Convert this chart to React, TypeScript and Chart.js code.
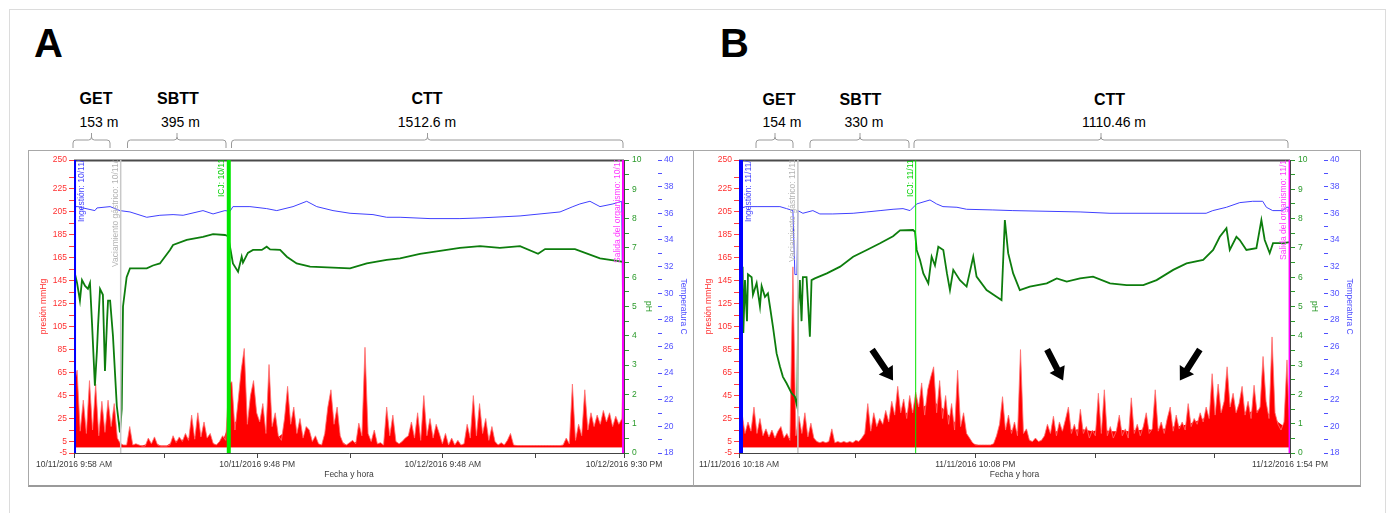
import React, { useEffect, useRef } from 'react';
import { Chart, registerables } from 'chart.js';

Chart.register(...registerables);

const FONT = "'Liberation Sans', Arial, sans-serif";

// ---------------- Panel A (minutes since 10/11/2016 9:58 AM) ----------------
const A_END = 2132;
// dense part of the pressure trace (solid red), one value every 24 min
const A_BASE_STEP = 24;
const pressureBaseA = [
  10, 15, 14, 16, 12, 14, 12, 6, 1.5, 1.5,
  1.5, 1.5, 3, 4, 1.5, 1.5, 5, 6, 7, 9,
  10, 8, 5, 2, 5, 20, 22, 24, 22, 20,
  18, 15, 12, 9, 13, 15, 11, 9, 6, 4,
  2, 10, 14, 6, 2, 3, 6, 10, 4, 2,
  2, 8, 4, 2, 3, 6, 8, 8, 6, 4,
  2, 2, 2, 2, 6, 10, 8, 5, 3, 1.5,
  3, 2, 1.5, 1.5, 1.5, 1.5, 1.5, 1.5, 1.5, 1.5,
  1.5, 8, 10, 14, 16, 16, 18, 16, 16, 16,
];
// pressure peaks, one value every 12 min
const A_STEP = 12;
const pressureA = [
  55, 67, 14, 41, 12, 58, 15, 55, 10, 40,
  13, 41, 18, 38, 8, 3, 2, 2, 18, 2,
  3, 2, 1, 1, 8, 3, 9, 2, 1, 1,
  1, 2, 10, 4, 9, 5, 12, 6, 28, 7,
  30, 9, 22, 8, 12, 3, 2, 5, 10, 6,
  55, 57, 15, 40, 67, 86, 20, 45, 58, 30,
  22, 38, 12, 72, 18, 30, 10, 6, 25, 53,
  20, 35, 12, 25, 8, 18, 15, 5, 10, 3,
  2, 12, 35, 50, 20, 35, 10, 3, 2, 4,
  6, 3, 21, 10, 87, 12, 5, 15, 3, 4,
  2, 35, 10, 28, 5, 3, 5, 8, 10, 22,
  8, 30, 6, 45, 10, 25, 8, 20, 12, 3,
  12, 2, 8, 2, 6, 2, 3, 20, 8, 45,
  10, 38, 12, 25, 6, 18, 5, 2, 4, 2,
  6, 12, 2, 1.5, 1.5, 1.5, 1.5, 1.5, 1.5, 1.5,
  1.5, 1.5, 1.5, 1.5, 1.5, 1.5, 1.5, 1.5, 2, 8,
  3, 55, 6, 20, 10, 50, 15, 30, 18, 28,
  20, 32, 22, 30, 18, 27, 20, 25, 104,
];
const phATimes = [
  0, 4, 12, 23, 31, 43, 54, 62, 70, 81, 89, 93, 101, 112, 120, 128, 132, 140, 151, 166,
  174, 178, 185, 190, 204, 217, 256, 282, 306, 333, 372, 384, 437, 500, 539, 585, 597, 607, 616, 636,
  650, 655, 674, 694, 728, 747, 760, 799, 825, 863, 915, 1004, 1070, 1135, 1212, 1264, 1341, 1419, 1496, 1574,
  1651, 1729, 1799, 1826, 1942, 2039, 2123, 2132,
];
const phAValues = [
  6.0, 6.1, 5.8, 5.2, 5.9, 5.7, 5.6, 5.8, 4.4, 2.3, 3.5, 4.3, 5.6, 5.4, 2.8, 4.5, 5.2, 5.2, 4.0, 1.6,
  1.0, 0.7, 1.5, 5.0, 6.0, 6.3, 6.3, 6.3, 6.4, 6.47, 6.93, 7.1, 7.27, 7.38, 7.47, 7.44, 7.4, 6.93, 6.47, 6.19,
  6.7, 6.5, 6.83, 6.93, 6.93, 7.04, 6.95, 6.93, 6.7, 6.47, 6.36, 6.33, 6.3, 6.47, 6.59, 6.64, 6.8, 6.9, 7.0, 7.06,
  7.0, 7.06, 6.8, 6.96, 6.96, 6.64, 6.53, 6.5,
];
const tempATimes = [
  0, 4, 15, 35, 81, 89, 140, 178, 217, 282, 333, 384, 423, 500, 539, 585, 605, 616, 682, 747,
  786, 849, 902, 941, 1004, 1070, 1159, 1212, 1264, 1380, 1496, 1574, 1729, 1884, 1934, 1961, 2000, 2039, 2089, 2123,
  2132,
];
const tempAValues = [
  32, 36.5, 36.5, 36.4, 36.2, 36.4, 36.5, 36.2, 36.1, 35.7, 35.85, 35.9, 35.85, 36.2, 35.95, 36.2, 36.15, 36.5, 36.5, 36.35,
  36.2, 36.5, 36.9, 36.5, 36.2, 36.0, 35.9, 35.7, 35.7, 35.6, 35.6, 35.65, 35.8, 36.1, 36.5, 36.7, 36.9, 36.5, 36.7, 36.9,
  18,
];
const xTicksA = [0, 350, 710, 1070, 1430, 1790, 2132];
const xLabelsA = ['10/11/2016 9:58 AM', '', '10/11/2016 9:48 PM', '', '10/12/2016 9:48 AM', '', '10/12/2016 9:30 PM'];
const eventTimesA = [4, 181, 600, 2128];
const eventTextsA = [
  'Ingestión: 10/11/2016 9:58 AM',
  'Vaciamiento gástrico: 10/11/2016 12:59 PM',
  'ICJ: 10/11/2016 7:58 PM',
  'Salida del organismo: 10/12/2016 9:28 PM',
];

// ---------------- Panel B (minutes since 11/11/2016 10:18 AM) ----------------
const B_END = 1656;
const B_BASE_STEP = 18;
const pressureBaseB = [
  12, 14, 12, 12, 10, 9, 8, 10, 8, 8,
  12, 12, 8, 4, 4, 4, 4, 4, 4, 4,
  4, 8, 12, 14, 16, 20, 24, 28, 30, 32,
  34, 36, 38, 38, 34, 28, 22, 15, 8, 3,
  2, 2, 2, 4, 12, 16, 14, 14, 8, 4,
  4, 6, 12, 14, 15, 16, 15, 16, 15, 14,
  15, 15, 14, 14, 15, 14, 15, 15, 16, 15,
  16, 16, 18, 18, 19, 20, 22, 24, 26, 28,
  30, 32, 32, 30, 32, 30, 32, 32, 30, 28,
  22, 18, 12,
];
const B_STEP = 9;
const pressureB = [
  20, 30, 12, 22, 14, 35, 12, 25, 10, 16,
  9, 15, 8, 14, 18, 8, 12, 6, 157, 10,
  27, 12, 30, 9, 21, 8, 5, 4, 5, 4,
  5, 16, 4, 5, 4, 5, 4, 5, 4, 6,
  5, 8, 12, 38, 14, 30, 18, 25, 20, 32,
  22, 40, 28, 53, 30, 42, 25, 45, 30, 48,
  35, 56, 28, 50, 61, 70, 30, 58, 25, 45,
  20, 38, 15, 67, 18, 30, 12, 8, 4, 2,
  2, 2, 2, 2, 2, 3, 10, 20, 44, 15,
  28, 12, 22, 10, 85, 12, 16, 6, 5, 8,
  5, 6, 10, 20, 12, 27, 10, 22, 14, 24,
  35, 12, 20, 10, 33, 12, 18, 8, 15, 10,
  47, 12, 50, 10, 18, 8, 14, 28, 10, 16,
  8, 43, 12, 20, 10, 18, 30, 12, 16, 50,
  14, 22, 12, 25, 35, 14, 28, 16, 22, 15,
  38, 18, 25, 20, 30, 22, 35, 25, 64, 28,
  55, 30, 40, 70, 35, 47, 30, 38, 53, 28,
  40, 25, 54, 30, 35, 79, 40, 25, 96, 30,
  20, 15, 22, 76, 10,
];
const phBTimes = [
  11, 13, 18, 24, 27, 38, 42, 53, 63, 68, 78, 87, 93, 102, 113, 123, 132, 143, 158, 168,
  175, 178, 183, 188, 192, 203, 213, 218, 228, 264, 304, 343, 384, 424, 463, 484, 523, 529, 534, 544,
  554, 569, 579, 589, 599, 614, 625, 634, 644, 664, 684, 704, 714, 744, 774, 789, 799, 809, 824, 844,
  874, 925, 955, 985, 1025, 1064, 1115, 1165, 1215, 1255, 1305, 1345, 1395, 1425, 1445, 1465, 1475, 1495, 1505, 1525,
  1555, 1570, 1580, 1595, 1605, 1635, 1656,
];
const phBValues = [
  6.36, 4.1, 5.9, 4.5, 6.1, 6.0, 5.4, 5.8, 5.0, 5.7, 5.33, 5.45, 5.0, 4.31, 3.4, 2.95, 2.6, 2.38, 2.04, 1.92,
  1.58, 5.0, 5.9, 4.5, 6.0, 6.0, 3.97, 5.9, 5.96, 6.13, 6.36, 6.7, 6.93, 7.16, 7.4, 7.6, 7.61, 7.55, 6.93, 6.59,
  6.13, 5.79, 6.7, 6.4, 7.04, 6.93, 6.13, 5.56, 6.25, 5.9, 5.68, 6.7, 6.02, 5.56, 5.33, 5.22, 7.95, 6.82, 6.13, 5.56,
  5.68, 5.79, 5.96, 5.85, 5.96, 6.02, 5.79, 5.73, 5.73, 5.9, 6.25, 6.47, 6.59, 6.93, 7.38, 7.67, 6.93, 7.38, 7.27, 6.93,
  6.99, 7.95, 7.27, 6.82, 7.16, 7.16, 7.2,
];
const tempBTimes = [
  0, 8, 21, 57, 123, 143, 162, 168, 174, 177, 192, 222, 243, 282, 343, 384, 424, 463, 493, 514,
  534, 574, 594, 613, 655, 684, 763, 823, 1025, 1115, 1404, 1424, 1465, 1505, 1544, 1574, 1585, 1604, 1634, 1646,
  1653, 1656,
];
const tempBValues = [
  33, 36.4, 36.5, 36.5, 36.5, 36.35, 36.2, 31.4, 31.4, 36.2, 36.0, 36.2, 35.95, 35.95, 36.0, 36.1, 36.2, 36.3, 36.35, 36.2,
  36.7, 37.0, 36.7, 36.5, 36.45, 36.3, 36.25, 36.2, 36.1, 36.0, 36.0, 36.2, 36.45, 36.8, 36.9, 36.9, 36.45, 36.2, 36.2, 36.45,
  36.45, 32,
];
const xTicksB = [0, 350, 710, 1070, 1430, 1656];
const xLabelsB = ['11/11/2016 10:18 AM', '', '11/11/2016 10:08 PM', '', '', '11/12/2016 1:54 PM'];
const eventTimesB = [6, 177, 531, 1654];
const eventTextsB = [
  'Ingestión: 11/11/2016 10:18 AM',
  'Vaciamiento gástrico: 11/11/2016 1:15 PM',
  'ICJ: 11/11/2016 7:09 PM',
  'Salida del organismo: 11/12/2016 1:52 PM',
];
// arrows: [minutes, mmHg] for tail and head
const arrowTailsB = [[400, 85], [926, 85], [1385, 85]];
const arrowHeadsB = [[463, 58], [974, 58], [1325, 58]];

// ---------------- shared axis ticks ----------------
const pressureMajor = [-5, 5, 25, 45, 65, 85, 105, 125, 145, 165, 185, 205, 225, 250];
const pressureMinor = [15, 35, 55, 75, 95, 115, 135, 155, 175, 195, 215, 235];
const phTicks = Array.from({ length: 21 }, (_, i) => i * 0.5);
const tempTicks = Array.from({ length: 23 }, (_, i) => 18 + i);

// styles for events (Ingestión, Vaciamiento, ICJ, Salida)
const evLineColors = ['#0000ff', '#c8c8c8', '#00e600', '#ff00ff'];
const evTextColors = ['#4646ff', '#b4b4b4', '#00d000', '#ff3cff'];
const evSides = ['right', 'left', 'left', 'left'];

type Panel = {
  end: number;
  baseStep: number; base: number[];
  step: number; pressure: number[];
  phT: number[]; phV: number[]; tT: number[]; tV: number[];
  xTicks: number[]; xLabels: string[];
  evT: number[]; evText: string[]; evWidth: number[]; evDrop: number[];
  arrowTails?: number[][]; arrowHeads?: number[][];
};

const panelA: Panel = {
  end: A_END, baseStep: A_BASE_STEP, base: pressureBaseA, step: A_STEP, pressure: pressureA,
  phT: phATimes, phV: phAValues, tT: tempATimes, tV: tempAValues,
  xTicks: xTicksA, xLabels: xLabelsA,
  evT: eventTimesA, evText: eventTextsA, evWidth: [2, 1.5, 4, 2], evDrop: [62, 107, 37, 103],
};
const panelB: Panel = {
  end: B_END, baseStep: B_BASE_STEP, base: pressureBaseB, step: B_STEP, pressure: pressureB,
  phT: phBTimes, phV: phBValues, tT: tempBTimes, tV: tempBValues,
  xTicks: xTicksB, xLabels: xLabelsB,
  evT: eventTimesB, evText: eventTextsB, evWidth: [4, 1.5, 1, 1.5], evDrop: [62, 102, 37, 100],
  arrowTails: arrowTailsB, arrowHeads: arrowHeadsB,
};

const tickFont = { family: FONT, size: 8.5 };

function buildChart(canvas: HTMLCanvasElement, p: Panel) {
  const baseData = p.base.map((v, i) => ({ x: Math.min(i * p.baseStep, p.end), y: v }));
  const peakData = p.pressure.map((v, i) => ({ x: Math.min(i * p.step, p.end), y: v }));
  const phData = p.phT.map((t, i) => ({ x: t, y: p.phV[i] }));
  const tempData = p.tT.map((t, i) => ({ x: t, y: p.tV[i] }));

  const framePlugin = {
    id: 'frameTop',
    beforeDatasetsDraw(chart: any) {
      const { ctx, chartArea: a } = chart;
      ctx.save();
      ctx.strokeStyle = '#4a4a4a';
      ctx.lineWidth = 2;
      ctx.beginPath();
      ctx.moveTo(a.left, a.top + 0.5);
      ctx.lineTo(a.right, a.top + 0.5);
      ctx.stroke();
      ctx.restore();
    },
  };

  const markerPlugin = {
    id: 'markers',
    afterDatasetsDraw(chart: any) {
      const { ctx, chartArea: a, scales } = chart;
      ctx.save();
      ctx.beginPath();
      ctx.rect(a.left, a.top, a.right - a.left, a.bottom - a.top);
      ctx.clip();
      p.evT.forEach((t, i) => {
        const x = scales.x.getPixelForValue(t);
        const w = p.evWidth[i];
        ctx.strokeStyle = evLineColors[i];
        ctx.lineWidth = w;
        ctx.beginPath();
        ctx.moveTo(x, a.top);
        ctx.lineTo(x, a.bottom);
        ctx.stroke();
        ctx.save();
        const right = evSides[i] === 'right';
        ctx.translate(right ? x + w / 2 + 1.5 : x - w / 2 - 0.5, a.top + p.evDrop[i]);
        ctx.rotate(-Math.PI / 2);
        ctx.textAlign = 'left';
        ctx.textBaseline = right ? 'top' : 'bottom';
        ctx.fillStyle = evTextColors[i];
        ctx.font = `8.5px ${FONT}`;
        ctx.fillText(p.evText[i], 0, 0);
        ctx.restore();
      });
      if (p.arrowTails && p.arrowHeads) {
        p.arrowTails.forEach((tail, i) => {
          const head = p.arrowHeads![i];
          const x0 = scales.x.getPixelForValue(tail[0]);
          const y0 = scales.yP.getPixelForValue(tail[1]);
          const x1 = scales.x.getPixelForValue(head[0]);
          const y1 = scales.yP.getPixelForValue(head[1]);
          const len = Math.hypot(x1 - x0, y1 - y0);
          ctx.save();
          ctx.translate(x0, y0);
          ctx.rotate(Math.atan2(y1 - y0, x1 - x0));
          ctx.fillStyle = '#000';
          ctx.beginPath();
          ctx.moveTo(0, -3.2);
          ctx.lineTo(len - 13, -3.2);
          ctx.lineTo(len - 13, -8.5);
          ctx.lineTo(len, 0);
          ctx.lineTo(len - 13, 8.5);
          ctx.lineTo(len - 13, 3.2);
          ctx.lineTo(0, 3.2);
          ctx.closePath();
          ctx.fill();
          ctx.restore();
        });
      }
      ctx.restore();
    },
  };

  return new Chart(canvas, {
    type: 'line',
    data: {
      datasets: [
        {
          label: 'pH', yAxisID: 'yPH', data: phData, borderColor: '#0d7d0d', borderWidth: 1.8,
          pointRadius: 0, fill: false, tension: 0, order: 1,
        },
        {
          label: 'Temperatura', yAxisID: 'yT', data: tempData, borderColor: '#4040ff', borderWidth: 1,
          pointRadius: 0, fill: false, tension: 0, order: 2,
        },
        {
          label: 'presión picos', yAxisID: 'yP', data: peakData, borderColor: '#ff7070', borderWidth: 0.8,
          backgroundColor: '#ff0000', pointRadius: 0, fill: { value: 0 }, tension: 0, order: 3,
        },
        {
          label: 'presión', yAxisID: 'yP', data: baseData, borderColor: '#ff0000', borderWidth: 0,
          backgroundColor: '#ff0000', pointRadius: 0, fill: { value: 0 }, tension: 0, order: 4,
        },
      ],
    } as any,
    options: {
      animation: false,
      responsive: false,
      maintainAspectRatio: false,
      layout: { padding: { top: 9, left: 0, right: 0, bottom: 0 } },
      plugins: { legend: { display: false }, tooltip: { enabled: false } },
      scales: {
        x: {
          type: 'linear', min: 0, max: p.end,
          afterBuildTicks: (s: any) => { s.ticks = p.xTicks.map((v) => ({ value: v })); },
          afterFit: (s: any) => { s.height = 32; },
          ticks: {
            autoSkip: false, maxRotation: 0, minRotation: 0, padding: 2, color: '#3a3a3a', font: tickFont,
            callback: (_v: any, i: number) => p.xLabels[i],
          },
          grid: { drawOnChartArea: false, drawTicks: true, tickLength: 5, tickColor: '#444' },
          border: { display: true, color: '#444', width: 1 },
          title: { display: true, text: 'Fecha y hora', color: '#3a3a3a', font: tickFont, padding: { top: 0, bottom: 5 } },
        },
        yP: {
          type: 'linear', position: 'left', min: -5, max: 250,
          afterBuildTicks: (s: any) => {
            s.ticks = [...pressureMajor, ...pressureMinor].sort((a, b) => a - b).map((v) => ({ value: v }));
          },
          afterFit: (s: any) => { s.width = 45; },
          ticks: {
            autoSkip: false, padding: 2, color: '#ff3030', font: tickFont,
            callback: (v: any) => (pressureMajor.includes(v) ? String(v) : ''),
          },
          grid: { drawOnChartArea: false, drawTicks: true, tickLength: 5, tickColor: '#ff4040' },
          border: { display: true, color: '#444', width: 1 },
          title: { display: true, text: 'presión mmHg', color: '#ff3030', font: tickFont, padding: { top: 10, bottom: 0 } },
        },
        yPH: {
          type: 'linear', position: 'right', min: 0, max: 10,
          afterBuildTicks: (s: any) => { s.ticks = phTicks.map((v) => ({ value: v })); },
          afterFit: (s: any) => { s.width = 34; },
          ticks: {
            autoSkip: false, padding: 3, color: '#2a9a2a', font: tickFont,
            callback: (v: any) => (Number.isInteger(v) ? String(v) : ''),
          },
          grid: { drawOnChartArea: false, drawTicks: true, tickLength: 5, tickColor: '#2a9a2a' },
          border: { display: true, color: '#444', width: 1 },
          title: { display: true, text: 'pH', color: '#2a9a2a', font: tickFont, padding: { top: 5, bottom: 0 } },
        },
        yT: {
          type: 'linear', position: 'right', min: 18, max: 40,
          afterBuildTicks: (s: any) => { s.ticks = tempTicks.map((v) => ({ value: v })); },
          afterFit: (s: any) => { s.width = 35; },
          ticks: {
            autoSkip: false, padding: 2, color: '#5050ff', font: tickFont,
            callback: (v: any) => (v % 2 === 0 ? String(v) : ''),
          },
          grid: { drawOnChartArea: false, drawTicks: true, tickLength: 4, tickColor: '#5050ff' },
          border: { display: false },
          title: { display: true, text: 'Temperatura C', color: '#5050ff', font: tickFont, padding: { top: 5, bottom: 0 } },
        },
      },
    } as any,
    plugins: [framePlugin, markerPlugin],
  });
}

function PanelChart({ panel, left, width }: { panel: Panel; left: number; width: number }) {
  const ref = useRef<HTMLCanvasElement>(null);
  useEffect(() => {
    if (!ref.current) return;
    const c = buildChart(ref.current, panel);
    return () => c.destroy();
  }, [panel]);
  return (
    <canvas
      ref={ref}
      width={width}
      height={334}
      style={{ position: 'absolute', left, top: 151, width, height: 334, display: 'block' }}
    />
  );
}

function bracketPath(x1: number, n: number, x2: number) {
  return `M${x1},148 L${x1},143 Q${x1},140 ${x1 + 3},140 L${n - 3},140 Q${n},140 ${n},137 L${n},133 ` +
    `M${n},137 Q${n},140 ${n + 3},140 L${x2 - 3},140 Q${x2},140 ${x2},143 L${x2},148`;
}

// header annotations
const phaseNames = ['GET', 'SBTT', 'CTT'];
const phaseDurA = ['153 m', '395 m', '1512.6 m'];
const phaseDurB = ['154 m', '330 m', '1110.46 m'];

export default function App() {
  const nameXA = [96, 178, 427];
  const durXA = [99, 180.5, 427];
  const nameXB = [779, 860.5, 1109.5];
  const durXB = [782, 864, 1114];
  const brA = [[73, 91.5, 110], [127.5, 177, 226], [231.5, 427.5, 623]];
  const brB = [[756, 775, 793], [810, 860, 909], [914, 1101, 1288]];
  return (
    <div style={{ position: 'absolute', left: 0, top: 0, width: 1394, height: 513, background: '#fff', overflow: 'hidden' }}>
      <div style={{ position: 'absolute', left: 9, top: 9, width: 1377, height: 520, border: '1px solid #dcdcdc', boxSizing: 'border-box' }} />
      <svg width={1394} height={150} style={{ position: 'absolute', left: 0, top: 0 }}>
        <g fontFamily={FONT} fill="#000">
          <text x={34} y={57} fontSize={40} fontWeight="bold">A</text>
          <text x={720} y={57} fontSize={40} fontWeight="bold">B</text>
          {phaseNames.map((n, i) => (
            <text key={'na' + i} x={nameXA[i]} y={104} fontSize={16} fontWeight="bold" textAnchor="middle">{n}</text>
          ))}
          {phaseDurA.map((d, i) => (
            <text key={'da' + i} x={durXA[i]} y={126.5} fontSize={14} textAnchor="middle">{d}</text>
          ))}
          {phaseNames.map((n, i) => (
            <text key={'nb' + i} x={nameXB[i]} y={104.5} fontSize={16} fontWeight="bold" textAnchor="middle">{n}</text>
          ))}
          {phaseDurB.map((d, i) => (
            <text key={'db' + i} x={durXB[i]} y={127} fontSize={14} textAnchor="middle">{d}</text>
          ))}
        </g>
        <g fill="none" stroke="#9a9a9a" strokeWidth={1}>
          {brA.map((b, i) => <path key={'ba' + i} d={bracketPath(b[0], b[1], b[2])} />)}
          {brB.map((b, i) => <path key={'bb' + i} d={bracketPath(b[0], b[1], b[2])} />)}
        </g>
      </svg>
      <div style={{ position: 'absolute', left: 28, top: 150, width: 666, height: 337, border: '1px solid #a8a8a8', borderBottom: '2px solid #9a9a9a', boxSizing: 'border-box' }} />
      <div style={{ position: 'absolute', left: 693, top: 150, width: 668, height: 337, border: '1px solid #a8a8a8', borderBottom: '2px solid #9a9a9a', boxSizing: 'border-box' }} />
      <PanelChart panel={panelA} left={29} width={664} />
      <PanelChart panel={panelB} left={694} width={665} />
    </div>
  );
}
